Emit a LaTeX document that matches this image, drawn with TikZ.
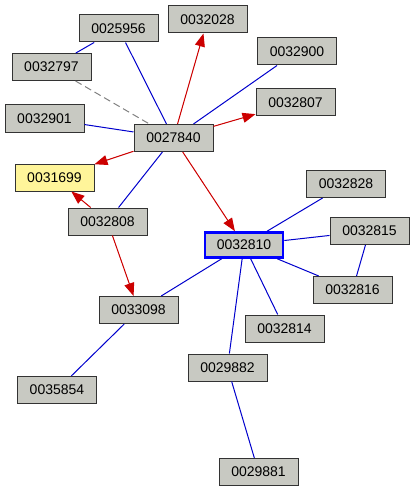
\documentclass[tikz,border=0pt]{standalone}
\usepackage{fontspec}
\setmainfont{Liberation Sans}
\usetikzlibrary{arrows.meta}
\definecolor{boxfill}{HTML}{C8C9C2}
\definecolor{yelfill}{HTML}{FFF59A}
\definecolor{boxline}{HTML}{333333}
\definecolor{eblue}{HTML}{0000CC}
\definecolor{ered}{HTML}{CC0000}
\tikzset{
  nd/.style={draw=boxline, line width=1pt, fill=boxfill, minimum width=79pt, minimum height=27pt, inner sep=0pt, font=\fontsize{14}{16}\selectfont},
  ndy/.style={nd, fill=yelfill},
  ndb/.style={nd, draw=blue, line width=2.6pt, minimum width=78pt, minimum height=25pt},
  be/.style={draw=eblue, line width=1pt},
  re/.style={draw=ered, line width=1pt, -{Triangle[length=13pt,width=10pt]}, fill=ered},
  de/.style={draw=gray, line width=1pt, dash pattern=on 7pt off 4pt},
}
\begin{document}
\begin{tikzpicture}[x=1pt,y=-1pt]
\useasboundingbox (0,0) rectangle (414,492);
\node[nd] (n25956) at (118.5,28.5) {0025956};
\node[nd] (n32028) at (207.5,19.5) {0032028};
\node[nd] (n32797) at (51.5,67) {0032797};
\node[nd] (n32900) at (297,51.5) {0032900};
\node[nd] (n32901) at (44.5,118.5) {0032901};
\node[nd] (n27840) at (173.5,138) {0027840};
\node[nd] (n32807) at (295.5,102.5) {0032807};
\node[ndy] (n31699) at (54.5,177.5) {0031699};
\node[nd] (n32828) at (346,184) {0032828};
\node[nd] (n32808) at (107.5,221.5) {0032808};
\node[ndb] (n32810) at (244,245) {0032810};
\node[nd] (n32815) at (369.5,231) {0032815};
\node[nd] (n32816) at (352.5,290) {0032816};
\node[nd] (n33098) at (138.5,310) {0033098};
\node[nd] (n32814) at (284.5,328.5) {0032814};
\node[nd] (n29882) at (227.5,367.5) {0029882};
\node[nd] (n35854) at (57,390) {0035854};
\node[nd] (n29881) at (258.5,472) {0029881};

\path[be] (n25956) -- (n32797);
\path[be] (n25956) -- (n27840);
\path[de] (n32797) -- (n27840);
\path[be] (n32901) -- (n27840);
\path[be] (n32900) -- (n27840);
\path[be] (n27840) -- (n32808);
\path[re] (n27840) -- (n32028);
\path[re] (n27840) -- (n32807);
\path[re] (n27840) -- (n31699);
\path[re] (n27840) -- (n32810);
\path[re] (n32808) -- (n31699);
\path[re] (n32808) -- (n33098);
\path[be] (n32810) -- (n33098);
\path[be] (n32810) -- (n32828);
\path[be] (n32810) -- (n32815);
\path[be] (n32810) -- (n32816);
\path[be] (n32815) -- (n32816);
\path[be] (n32810) -- (n32814);
\path[be] (n32810) -- (n29882);
\path[be] (n29882) -- (n29881);
\path[be] (n33098) -- (n35854);
\end{tikzpicture}
\end{document}
